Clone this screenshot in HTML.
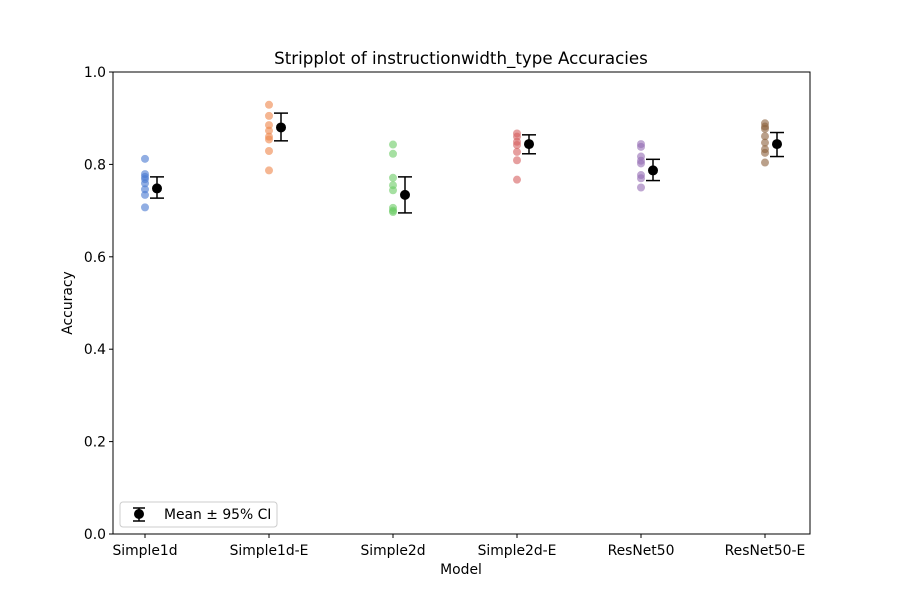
<!DOCTYPE html>
<html><head><meta charset="utf-8"><style>
body{margin:0;background:#fff}
svg{font-family:"DejaVu Sans","Liberation Sans",sans-serif}
</style></head><body>
<svg id="chart" width="900" height="600"></svg>
<script>
const categories=["Simple1d","Simple1d-E","Simple2d","Simple2d-E","ResNet50","ResNet50-E"];
const pointsSimple1d=[0.812,0.779,0.773,0.768,0.759,0.746,0.734,0.707];
const pointsSimple1dE=[0.929,0.905,0.885,0.873,0.860,0.854,0.829,0.787];
const pointsSimple2d=[0.843,0.823,0.771,0.755,0.744,0.706,0.700,0.697];
const pointsSimple2dE=[0.867,0.860,0.849,0.842,0.827,0.809,0.767];
const pointsResNet50=[0.844,0.838,0.817,0.808,0.802,0.777,0.770,0.750];
const pointsResNet50E=[0.889,0.882,0.877,0.861,0.847,0.833,0.825,0.804];
const means=[0.748,0.880,0.734,0.844,0.787,0.844];
const ciLow=[0.727,0.851,0.695,0.823,0.765,0.817];
const ciHigh=[0.773,0.911,0.773,0.864,0.811,0.869];
const yTicks=[0,0.2,0.4,0.6,0.8,1.0];
const allPoints=[pointsSimple1d,pointsSimple1dE,pointsSimple2d,pointsSimple2dE,pointsResNet50,pointsResNet50E];
const colors=["#4878d0","#ee854a","#6acc64","#d65f5f","#956cb4","#8c613c"];
const L=113,R=810,T=72,B=534;
const xPos=i=>L+32+i*124;
const yPos=v=>B-v*(B-T);
const svg=document.getElementById('chart');
const NS="http://www.w3.org/2000/svg";
function mk(tag,attrs,parent){const e=document.createElementNS(NS,tag);for(const k in attrs)e.setAttribute(k,attrs[k]);(parent||svg).appendChild(e);return e;}
let t=mk('text',{x:461,y:64,'text-anchor':'middle','font-size':16.7});t.textContent="Stripplot of instructionwidth_type Accuracies";

allPoints.forEach((arr,i)=>{arr.forEach(v=>{const c=mk('circle',{cx:xPos(i),cy:yPos(v),r:4,fill:colors[i],'fill-opacity':0.6});

});});
means.forEach((m,i)=>{const x=xPos(i)+12;
const g=mk('g',{stroke:'#000','stroke-width':1.5});


mk('line',{x1:x,x2:x,y1:yPos(ciLow[i]),y2:yPos(ciHigh[i])},g);
mk('line',{x1:x-7,x2:x+7,y1:yPos(ciLow[i]),y2:yPos(ciLow[i])},g);
mk('line',{x1:x-7,x2:x+7,y1:yPos(ciHigh[i]),y2:yPos(ciHigh[i])},g);
mk('circle',{cx:x,cy:yPos(m),r:5,fill:'#000',stroke:'none'},g);});
const fr=mk('rect',{x:L,y:T,width:R-L,height:B-T,fill:'none',stroke:'#000','stroke-width':1});

yTicks.forEach(v=>{const y=yPos(v);mk('line',{x1:L-4,x2:L,y1:y,y2:y,stroke:'#000'});
const tx=mk('text',{x:L-7,y:y+5,'text-anchor':'end','font-size':13.9});tx.textContent=v.toFixed(1);
});
categories.forEach((c,i)=>{const x=xPos(i);mk('line',{x1:x,x2:x,y1:B,y2:B+4,stroke:'#000'});
const tx=mk('text',{x:x,y:B+21,'text-anchor':'middle','font-size':13.9});tx.textContent=c;
});
let xl=mk('text',{x:461,y:574,'text-anchor':'middle','font-size':13.9});xl.textContent="Model";

let yl=mk('text',{x:72,y:303,'text-anchor':'middle','font-size':13.9,transform:'rotate(-90 72 303)'});yl.textContent="Accuracy";

const lg=mk('g',{});

mk('rect',{x:120,y:502,width:157,height:25,rx:3,fill:'#fff',stroke:'#ccc'},lg);
mk('line',{x1:139,x2:139,y1:508,y2:521,stroke:'#000','stroke-width':1.5},lg);
mk('line',{x1:133,x2:145,y1:508,y2:508,stroke:'#000','stroke-width':1.5},lg);
mk('line',{x1:133,x2:145,y1:521,y2:521,stroke:'#000','stroke-width':1.5},lg);
mk('circle',{cx:139,cy:514,r:5,fill:'#000'},lg);
const lt=mk('text',{x:164,y:519,'font-size':13.9},lg);lt.textContent="Mean ± 95% CI";
</script>
</body></html>
